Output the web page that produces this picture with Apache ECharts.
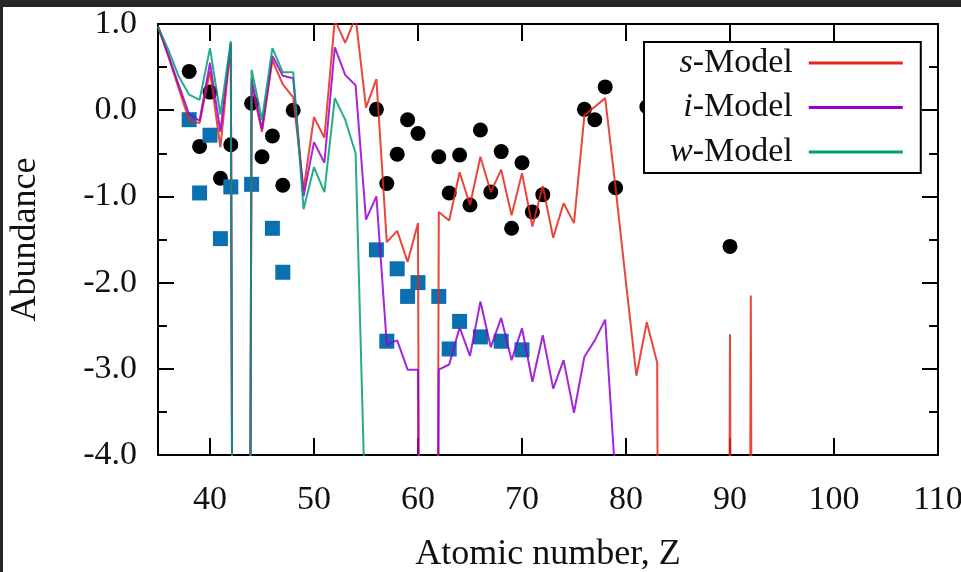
<!DOCTYPE html>
<html>
<head>
<meta charset="utf-8">
<script src="https://cdn.jsdelivr.net/npm/echarts@6/dist/echarts.min.js"></script>
<style>
html,body{margin:0;padding:0;background:#fff;}
#c{width:961px;height:572px;}
</style>
</head>
<body>
<div id="c"></div>
<script>
// ---- data ----
const zModel = [35,36,37,38,39,40,41,42,43,44,45,46,47,48,49,50,51,52,53,54,55,56,57,58,59,60,61,62,63,64,65,66,67,68,69,70,71,72,73,74,75,76,77,78,79,80,81,82,83,84,85,86,87,88,89,90,91,92,93];
const sModel = [0.97,0.62,0.25,-0.12,-0.15,0.45,-0.43,0.76,-40,0.30,-0.25,0.58,0.30,0.15,-0.92,-0.08,-0.32,1.05,0.78,1.08,0.03,0.36,-1.53,-1.40,-1.76,-1.31,-40,-1.18,-1.28,-0.72,-1.10,-0.54,-0.95,-0.69,-1.22,-0.73,-1.35,-0.88,-1.48,-1.08,-1.31,-0.06,0.04,0.14,-0.90,-2.00,-3.08,-2.46,-2.93,-40,-40,-40,-40,-40,-40,-2.60,-40,-2.15,-40];
const iModel = [0.97,0.64,0.29,-0.05,-0.12,0.55,-0.25,0.78,-40,0.36,-0.22,0.63,0.40,0.37,-1.00,-0.37,-0.61,0.73,0.41,0.29,-1.27,-1.00,-2.72,-2.67,-3.01,-3.01,-40,-3.01,-2.95,-2.52,-2.85,-2.22,-2.75,-2.41,-2.90,-2.53,-3.15,-2.61,-3.23,-2.90,-3.51,-2.86,-2.67,-2.43,-4.30,null,null,null,null,null,null,null,null,null,null,null,null,null,null];
const wModel = [0.97,0.70,0.39,0.18,0.12,0.72,-0.05,0.80,-40,0.47,-0.11,0.72,0.44,0.44,-1.15,-0.66,-0.95,0.14,-0.11,-0.50,-5.00,null,null,null,null,null,null,null,null,null,null,null,null,null,null,null,null,null,null,null,null,null,null,null,null,null,null,null,null,null,null,null,null,null,null,null,null,null,null];

const obsZ = [38,39,40,41,42,44,45,46,47,48,56,57,58,59,60,62,63,64,65,66,67,68,69,70,71,72,76,77,78,79,82,90];
const obsV = [0.45,-0.42,0.21,-0.79,-0.40,0.08,-0.54,-0.30,-0.87,0.00,0.01,-0.85,-0.51,-0.11,-0.27,-0.54,-0.96,-0.52,-1.10,-0.23,-0.95,-0.48,-1.37,-0.61,-1.18,-0.98,0.01,-0.11,0.27,-0.90,0.04,-1.58];

const sqZ = [38,39,40,41,42,44,46,47,56,57,58,59,60,62,63,64,66,68,70];
const sqV = [-0.11,-0.96,-0.29,-1.49,-0.89,-0.86,-1.37,-1.88,-1.62,-2.68,-1.84,-2.16,-2.00,-2.16,-2.77,-2.45,-2.63,-2.68,-2.78];

const xTicks = [40,50,60,70,80,90,100,110];
const yLabels = ['-4.0','-3.0','-2.0','-1.0','0.0','1.0'];
const seriesNames = ['s-Model','i-Model','w-Model'];
// ---------------

const FONT = 'Liberation Serif, DejaVu Serif, serif';
const zip = (a, b) => a.map((v, i) => [v, b[i]]);

const chart = echarts.init(document.getElementById('c'), null, {renderer: 'canvas'});

const yFmt = v => yLabels[Math.round(v) + 4];

const axisLineCommon = {show: true, onZero: false, lineStyle: {color: '#000', width: 2}};

const option = {
  animation: false,
  backgroundColor: '#ffffff',
  graphic: [
    {type: 'rect', shape: {x: 0, y: 0, width: 961, height: 7}, style: {fill: '#26272b'}, z: 100},
    {type: 'rect', shape: {x: 0, y: 0, width: 3, height: 572}, style: {fill: '#26272b'}, z: 100}
  ],
  grid: {left: 158, top: 24, right: 23, bottom: 117, show: true, borderColor: '#000', borderWidth: 2,
         backgroundColor: 'transparent', containLabel: false, outerBoundsMode: 'none'},
  legend: {
    data: seriesNames,
    orient: 'vertical',
    left: 644, top: 42,
    align: 'right',
    icon: 'rect',
    itemWidth: 94, itemHeight: 3,
    itemGap: 8.5,
    padding: [3, 18, 3, 26],
    backgroundColor: '#fff',
    borderColor: '#000', borderWidth: 2, borderRadius: 0,
    formatter: name => '{it|' + name.charAt(0) + '}{n|' + name.slice(1) + '}',
    textStyle: {
      fontFamily: FONT, fontSize: 34, color: '#111', lineHeight: 36,
      rich: {
        it: {fontFamily: FONT, fontSize: 34, fontStyle: 'italic', color: '#111', lineHeight: 36},
        n: {fontFamily: FONT, fontSize: 34, color: '#111', padding: [0, 11, 0, 0], lineHeight: 36}
      }
    }
  },
  xAxis: [
    {
      type: 'value', min: 35, max: 110, position: 'bottom',
      name: 'Atomic number, Z', nameLocation: 'middle', nameGap: 82,
      nameTextStyle: {fontFamily: FONT, fontSize: 36, color: '#111'},
      axisLine: axisLineCommon,
      axisTick: {show: true, inside: true, length: 17, lineStyle: {color: '#000', width: 2}, customValues: xTicks},
      axisLabel: {show: true, margin: 28, fontFamily: FONT, fontSize: 34, color: '#111', customValues: xTicks, showMaxLabel: true, hideOverlap: false},
      splitLine: {show: false}
    },
    {
      type: 'value', min: 35, max: 110, position: 'top',
      axisLine: axisLineCommon,
      axisTick: {show: true, inside: true, length: 17, lineStyle: {color: '#000', width: 2}, customValues: xTicks},
      axisLabel: {show: false},
      splitLine: {show: false}
    }
  ],
  yAxis: [
    {
      type: 'value', min: -4, max: 1, interval: 1, position: 'left',
      name: 'Abundance', nameLocation: 'middle', nameGap: 114, nameRotate: 90,
      nameTextStyle: {fontFamily: FONT, fontSize: 36, color: '#111'},
      axisLine: axisLineCommon,
      axisTick: {show: true, inside: true, length: 16, lineStyle: {color: '#000', width: 2}},
      minorTick: {show: true, splitNumber: 2, length: 9, lineStyle: {color: '#000', width: 2}},
      axisLabel: {margin: 21, fontFamily: FONT, fontSize: 34, color: '#111', formatter: yFmt},
      splitLine: {show: false}
    },
    {
      type: 'value', min: -4, max: 1, interval: 1, position: 'right',
      axisLine: axisLineCommon,
      axisTick: {show: true, inside: true, length: 16, lineStyle: {color: '#000', width: 2}},
      minorTick: {show: true, splitNumber: 2, length: 9, lineStyle: {color: '#000', width: 2}},
      axisLabel: {show: false},
      splitLine: {show: false}
    }
  ],
  series: [
    {
      name: 'obs', type: 'scatter', data: zip(obsZ, obsV), symbol: 'circle', symbolSize: 15,
      itemStyle: {color: '#000', opacity: 1}, z: 2, clip: true
    },
    {
      name: 'obs2', type: 'scatter', data: zip(sqZ, sqV), symbol: 'rect', symbolSize: 15,
      itemStyle: {color: '#0a70b0', opacity: 1}, z: 2, clip: true
    },
    {
      name: seriesNames[0], type: 'line', data: zip(zModel, sModel), showSymbol: false, clip: true,
      lineStyle: {color: '#e5261a', width: 2, opacity: 0.85}, itemStyle: {color: '#e5261a'}, z: 3
    },
    {
      name: seriesNames[1], type: 'line', data: zip(zModel, iModel), showSymbol: false, clip: true,
      connectNulls: false,
      lineStyle: {color: '#9400d3', width: 2, opacity: 0.85}, itemStyle: {color: '#9400d3'}, z: 3
    },
    {
      name: seriesNames[2], type: 'line', data: zip(zModel, wModel), showSymbol: false, clip: true,
      connectNulls: false,
      lineStyle: {color: '#009e73', width: 2, opacity: 0.85}, itemStyle: {color: '#009e73'}, z: 3
    }
  ]
};
chart.setOption(option);
</script>
</body>
</html>
